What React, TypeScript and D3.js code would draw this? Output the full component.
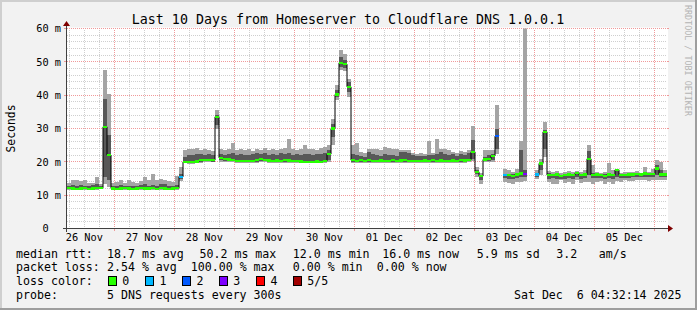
import React from 'react';
import * as d3 from 'd3';

// ---- data ----
const START = Date.UTC(2025, 10, 26, 5, 5, 0);
const SPAN_DAYS = 10;
const BIN_MINUTES = 96;

// sorted ping values per bin (ms); null = no answer
const p5 = [
  13.8,14.6,14.5,14.3,14.7,13.8,13.6,15.4,13.3,47.5,
  40.5,13.8,14.0,14.5,13.8,14.5,14.0,13.8,14.3,15.6,
  14.5,16.4,14.7,15.0,14.6,14.4,14.0,15.7,18.5,23.5,
  24.0,23.8,24.2,23.6,23.8,23.5,23.2,35.5,23.8,23.5,
  24.0,25.7,23.5,24.0,23.5,23.8,23.3,24.0,23.6,24.2,
  23.5,23.8,23.5,24.0,24.2,27.0,23.8,23.5,24.0,25.0,
  23.8,24.0,23.5,24.2,24.5,25.0,33.0,43.0,53.7,52.5,
  45.0,25.0,25.7,23.0,22.6,24.0,24.0,23.8,23.6,24.5,
  24.3,24.0,23.8,23.5,23.6,23.5,22.8,22.5,22.6,22.5,
  26.3,22.8,27.0,24.0,23.8,23.5,23.0,22.7,23.2,23.0,
  23.5,30.7,18.5,16.8,23.5,23.5,23.6,37.0,null,18.0,
  17.5,17.0,17.8,26.2,62.0,null,null,17.5,21.0,32.0,
  17.2,17.0,17.3,16.8,17.0,17.2,17.0,17.2,17.0,17.5,
  25.0,19.0,17.0,16.8,17.0,19.7,17.5,17.9,16.8,17.0,
  16.9,17.0,17.2,16.8,18.5,17.0,17.8,20.5,20.0,17.5,
];
const p4 = [
  12.9,13.2,12.8,13.0,12.9,12.8,13.1,13.3,12.7,39.0,
  28.0,12.8,12.7,13.0,12.8,12.9,12.7,12.8,13.0,13.4,
  12.8,13.0,12.9,13.5,13.3,12.9,12.8,13.2,16.5,21.5,
  22.2,22.0,22.5,22.3,22.0,22.5,22.0,34.0,22.5,22.0,
  22.5,22.8,22.0,22.5,22.2,22.0,22.4,22.8,22.5,22.6,
  22.0,22.5,22.2,22.8,22.5,22.8,22.2,22.5,22.0,22.5,
  22.3,22.0,22.5,22.5,22.8,23.5,31.5,41.5,51.5,50.5,
  44.0,22.5,22.0,21.8,21.6,23.0,22.5,22.0,21.8,22.5,
  22.2,22.0,21.8,23.0,23.0,22.8,22.0,21.8,21.7,21.8,
  22.0,22.2,22.5,23.0,22.5,22.0,22.5,21.8,22.5,22.0,
  22.8,26.5,17.5,16.0,21.5,22.0,22.5,30.0,null,16.5,
  16.5,16.3,16.8,23.5,17.5,null,null,16.5,20.0,29.5,
  16.6,16.5,16.6,16.2,16.5,16.6,16.4,16.8,16.3,16.6,
  23.2,16.8,16.5,16.4,16.3,16.8,16.5,17.7,16.4,16.5,
  16.5,16.6,16.7,16.5,16.9,16.6,16.8,19.0,17.5,16.8,
];
const median = [
  12.2,12.0,11.9,12.0,12.1,11.9,12.0,12.1,12.2,30.5,
  22.0,12.0,11.9,12.0,12.1,12.0,11.9,12.0,12.1,12.0,
  12.0,12.1,11.9,12.2,12.0,11.9,12.0,12.1,15.5,20.0,
  19.9,19.9,20.1,20.5,20.5,20.6,20.5,33.5,21.2,20.8,
  20.7,20.6,20.3,20.2,20.3,20.2,20.3,20.5,20.8,20.6,
  20.4,20.3,20.4,20.3,20.5,20.4,20.3,20.3,20.1,20.0,
  20.0,20.0,20.1,20.0,20.2,22.3,30.0,40.2,49.7,49.3,
  42.5,20.5,20.3,20.5,20.3,20.5,20.2,20.3,20.4,20.3,
  20.2,20.5,20.3,20.4,20.5,20.3,20.3,20.2,20.3,20.4,
  20.3,20.5,20.3,20.4,20.2,20.3,20.4,20.3,20.5,20.4,
  20.6,23.0,17.0,15.7,20.7,20.8,21.8,27.7,null,16.0,
  16.0,15.8,16.2,16.5,16.3,null,null,16.2,19.5,29.0,
  16.0,16.1,16.2,15.8,16.0,16.2,16.0,16.6,16.0,16.2,
  20.9,16.0,16.2,16.0,15.8,16.2,16.0,17.6,16.0,16.1,
  16.2,16.2,16.3,16.2,16.5,16.3,16.4,18.0,16.2,16.2,
];
const p2 = [
  12.0,11.8,11.8,11.9,11.9,11.8,11.9,11.9,12.0,15.5,
  14.5,11.8,11.7,11.8,11.9,11.8,11.7,11.8,11.9,11.8,
  11.8,11.9,11.7,12.0,11.8,11.7,11.8,11.9,14.8,19.8,
  19.7,19.7,19.8,20.1,20.2,20.2,20.1,31.0,20.5,20.3,
  20.3,20.2,20.0,19.9,20.0,19.9,20.0,20.1,20.3,20.2,
  20.0,20.0,20.0,20.0,20.1,20.0,20.0,20.0,19.9,19.8,
  19.8,19.8,19.8,19.8,19.9,20.5,27.5,39.5,48.5,48.2,
  41.0,20.1,20.0,20.1,20.0,20.1,19.9,20.0,20.0,20.0,
  19.9,20.1,20.0,20.0,20.1,20.0,20.0,19.9,20.0,20.0,
  20.0,20.1,20.0,20.0,19.9,20.0,20.0,20.0,20.1,20.0,
  20.2,21.0,16.5,14.5,20.3,20.4,20.6,24.0,null,15.3,
  15.0,15.0,15.3,15.5,15.5,null,null,15.5,17.5,24.0,
  15.0,15.2,15.0,15.0,15.0,15.3,14.8,15.5,15.0,15.2,
  16.0,15.2,15.3,15.2,15.0,15.3,15.0,15.5,15.2,15.3,
  15.3,15.4,15.5,15.4,15.5,15.4,15.5,16.0,15.5,15.4,
];
const p1 = [
  11.7,11.5,11.6,11.6,11.6,11.5,11.6,11.6,11.8,13.3,
  12.5,11.6,11.5,11.6,11.7,11.6,11.5,11.6,11.7,11.6,
  11.6,11.7,11.5,11.7,11.6,11.5,11.6,11.7,14.2,19.6,
  19.5,19.5,19.6,19.8,19.9,19.9,19.9,30.0,20.0,20.0,
  19.9,19.9,19.8,19.7,19.8,19.7,19.8,19.8,19.9,19.9,
  19.8,19.8,19.8,19.8,19.8,19.8,19.8,19.8,19.7,19.6,
  19.6,19.6,19.6,19.6,19.6,20.0,25.0,38.5,47.5,47.2,
  39.5,19.8,19.8,19.8,19.8,19.8,19.7,19.8,19.8,19.8,
  19.7,19.8,19.8,19.8,19.8,19.8,19.8,19.7,19.8,19.8,
  19.8,19.8,19.8,19.8,19.7,19.8,19.8,19.8,19.8,19.8,
  19.9,20.2,15.5,13.5,20.0,20.0,20.1,22.5,null,14.0,
  13.8,13.5,14.0,14.0,14.2,null,null,15.0,16.0,21.5,
  14.0,13.5,13.3,14.5,13.6,14.0,13.5,14.5,13.6,14.0,
  14.0,13.5,14.0,14.2,13.3,14.0,13.5,14.3,14.0,14.5,
  14.3,14.4,14.6,14.5,14.5,14.4,14.6,14.5,14.5,14.5,
];
// lost packets per bin (of 5)
const loss = [
  0,0,0,0,0,0,0,0,0,0,
  0,0,0,0,0,0,0,0,0,0,
  0,0,0,0,0,0,0,0,1,0,
  0,0,0,0,0,0,0,0,0,0,
  0,0,0,0,0,0,0,0,0,0,
  0,0,0,0,0,0,0,0,0,0,
  0,0,0,0,0,0,0,0,0,0,
  0,0,0,0,0,0,0,0,0,0,
  0,0,0,0,0,0,0,0,0,0,
  0,0,0,0,0,0,0,0,0,0,
  0,0,0,0,0,0,0,2,5,1,
  0,0,0,0,3,5,5,1,0,0,
  0,0,0,0,0,0,0,0,0,0,
  0,0,0,0,0,0,0,0,0,0,
  0,0,0,0,0,0,0,0,0,0,
];

const yTickValues = [0, 10, 20, 30, 40, 50, 60];
const yTickLabels = ['0', '10 m', '20 m', '30 m', '40 m', '50 m', '60 m'];
const lossLabels = ['0', '1', '2', '3', '4', '5/5'];
const lossColors = ['#26ff00', '#00b8ff', '#0059ff', '#7e00ff', '#ff0000', '#a10000'];

const title = 'Last 10 Days from Homeserver to Cloudflare DNS 1.0.0.1';
const yAxisTitle = 'Seconds';
const watermark = 'RRDTOOL / TOBI OETIKER';
const medianRow = ['median rtt:', '18.7 ms avg', '50.2 ms max', '12.0 ms min', '16.0 ms now', '5.9 ms sd', '3.2', 'am/s'];
const lossRow = ['packet loss:', '2.54 % avg', '100.00 % max', '0.00 % min', '0.00 % now'];
const lossColorTitle = 'loss color:';
const probeRow = ['probe:', '5 DNS requests every 300s'];
const stamp = 'Sat Dec  6 04:32:14 2025';

// ---- layout ----
const W = 697, H = 310;
const X0 = 67, X1 = 667, Y0 = 228.5, Y1 = 28.5;
const FONT = '"DejaVu Sans Mono", "Liberation Mono", monospace';
const medianCols = [16, 107, 199.5, 292.8, 382.2, 476.8, 556.2, 598.8];
const lossCols = [16, 107, 190.8, 292.8, 376.8];
const rowY = [257.6, 271.4, 285.3, 299.1];
const boxX = [108, 145.3, 182.3, 219, 256.3, 293];

const pre = (s: string) => s.replace(/ /g, '\u00a0');

export default function App() {
  const MS_DAY = 86400000;
  const BIN_MS = BIN_MINUTES * 60000;
  const start = new Date(START);
  const end = new Date(START + SPAN_DAYS * MS_DAY);
  const x = d3.scaleUtc().domain([start, end]).range([X0, X1]);
  const y = d3.scaleLinear().domain([0, 60]).range([Y0, Y1]);

  const bins = median.map((m, i) => ({
    x0: x(new Date(START + i * BIN_MS)),
    x1: x(new Date(START + (i + 1) * BIN_MS)),
    p1: p1[i], p2: p2[i], med: m, p4: p4[i], p5: p5[i], loss: loss[i],
  }));

  const days = d3.utcDay.range(start, end);
  const sixHours = d3.utcHour.every(6)!.range(start, end).filter(d => d.getUTCHours() !== 0);
  const noonLabels = d3.utcDay.range(new Date(START - MS_DAY), end)
    .map(d => d3.utcHour.offset(d, 12))
    .filter(d => x(d) > X0 + 10 && x(d) < X1 - 10);
  const fmt = d3.utcFormat('%d %b');

  const minorY = d3.range(2, 61, 2).filter(v => v % 10 !== 0);
  const majorY = yTickValues.filter(v => v > 0);

  const pts: ({ x: number; y: number } | null)[] = [];
  bins.forEach(b => {
    if (b.med == null) { pts.push(null); return; }
    pts.push({ x: b.x0, y: y(b.med) });
    pts.push({ x: b.x1, y: y(b.med) });
  });
  const line = d3.line<{ x: number; y: number } | null>()
    .defined(d => d != null)
    .x(d => d!.x).y(d => d!.y);

  const axisFs = 10.3;
  const charW = axisFs * 0.602;

  return (
    <svg width={W} height={H} style={{ display: 'block', position: 'absolute', left: 0, top: 0 }}
      fontFamily={FONT}>
      <defs>
        <clipPath id="plotclip">
          <rect x={X0} y={Y1} width={X1 - X0 + 1} height={Y0 - Y1} />
        </clipPath>
      </defs>
      <rect x={0} y={0} width={W} height={H} fill="#f2f2f2" />
      <rect x={0} y={0} width={W} height={2} fill="#cfcfcf" />
      <rect x={0} y={0} width={2} height={H} fill="#cfcfcf" />
      <rect x={0} y={H - 2} width={W} height={2} fill="#9e9e9e" />
      <rect x={W - 2} y={0} width={2} height={H} fill="#9e9e9e" />

      <rect x={X0} y={Y1 - 1} width={X1 - X0 + 1} height={Y0 - Y1 + 1} fill="#ffffff" />

      {/* grid */}
      <g shapeRendering="crispEdges" strokeWidth={1}>
        {minorY.map(v => (
          <line key={'my' + v} x1={X0} x2={X1} y1={y(v)} y2={y(v)} stroke="#cfcfcf" strokeDasharray="1 1" />
        ))}
        {sixHours.map(d => (
          <line key={'mx' + d.getTime()} x1={x(d)} x2={x(d)} y1={Y0} y2={Y1} stroke="#cfcfcf" strokeDasharray="1 1" />
        ))}
        {majorY.map(v => (
          <g key={'My' + v}>
            <line x1={X0} x2={X1} y1={y(v)} y2={y(v)} stroke="#f09a9a" strokeDasharray="1 1" />
            <line x1={X0 - 3} x2={X0} y1={y(v)} y2={y(v)} stroke="#f09a9a" />
            <line x1={X1} x2={X1 + 2} y1={y(v)} y2={y(v)} stroke="#f09a9a" />
          </g>
        ))}
        {days.map(d => (
          <g key={'Mx' + d.getTime()}>
            <line x1={x(d)} x2={x(d)} y1={Y0} y2={Y1} stroke="#f09a9a" strokeDasharray="1 1" />
            <line x1={x(d)} x2={x(d)} y1={Y0} y2={Y0 + 2} stroke="#f09a9a" />
          </g>
        ))}
      </g>

      {/* smoke + median */}
      <g clipPath="url(#plotclip)">
        <g shapeRendering="crispEdges">
          {bins.map((b, i) => b.p1 == null || b.p5 == null ? null : (
            <rect key={'s1' + i} x={b.x0} width={b.x1 - b.x0} y={y(b.p5)} height={y(b.p1) - y(b.p5)} fill="#a4a4a4" />
          ))}
          {bins.map((b, i) => b.p2 == null || b.p4 == null ? null : (
            <rect key={'s2' + i} x={b.x0} width={b.x1 - b.x0} y={y(b.p4)} height={Math.max(0.8, y(b.p2) - y(b.p4))} fill="#585858" />
          ))}
        </g>
        <path d={line(pts) || ''} fill="none" stroke="#000000" strokeWidth={1} />
        <g shapeRendering="crispEdges">
          {bins.map((b, i) => b.med == null ? null : (
            <rect key={'l' + i} x={b.x0} width={b.x1 - b.x0} y={y(b.med) - 1.2} height={2.4}
              fill={lossColors[Math.min(b.loss, 5)]} />
          ))}
        </g>
      </g>

      {/* axes */}
      <g shapeRendering="crispEdges">
        <line x1={X0 - 4} x2={X1 + 3} y1={Y0} y2={Y0} stroke="#404040" strokeWidth={1} />
        <line x1={X0 - 0.5} x2={X0 - 0.5} y1={Y0 + 3} y2={Y1 - 3} stroke="#404040" strokeWidth={1} />
      </g>
      <path d={`M${X1 + 1},${Y0 - 3.5} L${X1 + 6},${Y0} L${X1 + 1},${Y0 + 3.5} Z`} fill="#7f0000" />
      <path d={`M${X0 - 4},${Y1 - 2.5} L${X0 - 0.5},${Y1 - 7.5} L${X0 + 3},${Y1 - 2.5} Z`} fill="#7f0000" />

      {/* axis labels */}
      <g fontSize={axisFs} fill="#000">
        {yTickValues.map((v, i) => {
          const lab = yTickLabels[i];
          const shift = lab.indexOf(' ') < 0 ? 2 * charW : 0;
          return (
            <text key={'yl' + v} x={61 - shift} y={y(v) + 3.7} textAnchor="end">{lab}</text>
          );
        })}
        {noonLabels.map(d => (
          <text key={'xl' + d.getTime()} x={x(d)} y={241.3} textAnchor="middle">{fmt(d)}</text>
        ))}
      </g>

      <text x={348} y={24} fontSize={13.3} textAnchor="middle" fill="#000">{title}</text>
      <text transform={`translate(15,${(Y0 + Y1) / 2}) rotate(-90)`} fontSize={11.4} textAnchor="middle" fill="#000">{yAxisTitle}</text>
      <text transform="translate(685,5) rotate(90)" fontSize={8.4} fill="#b4b4b4">{watermark}</text>

      {/* legend */}
      <g fontSize={11.6} fill="#000">
        {medianRow.map((t, i) => <text key={'mr' + i} x={medianCols[i]} y={rowY[0]}>{pre(t)}</text>)}
        {lossRow.map((t, i) => <text key={'lr' + i} x={lossCols[i]} y={rowY[1]}>{pre(t)}</text>)}
        <text x={16} y={rowY[2]}>{pre(lossColorTitle)}</text>
        {lossLabels.map((t, i) => (
          <g key={'lc' + i}>
            <rect x={boxX[i] + 0.5} y={276.5} width={8} height={9} fill={lossColors[i]} stroke="#000" strokeWidth={1} shapeRendering="crispEdges" />
            <text x={boxX[i] + 14.3} y={rowY[2]}>{t}</text>
          </g>
        ))}
        <text x={16} y={rowY[3]}>{pre(probeRow[0])}</text>
        <text x={107} y={rowY[3]}>{pre(probeRow[1])}</text>
        <text x={681.5} y={rowY[3]} textAnchor="end">{pre(stamp)}</text>
      </g>
    </svg>
  );
}
